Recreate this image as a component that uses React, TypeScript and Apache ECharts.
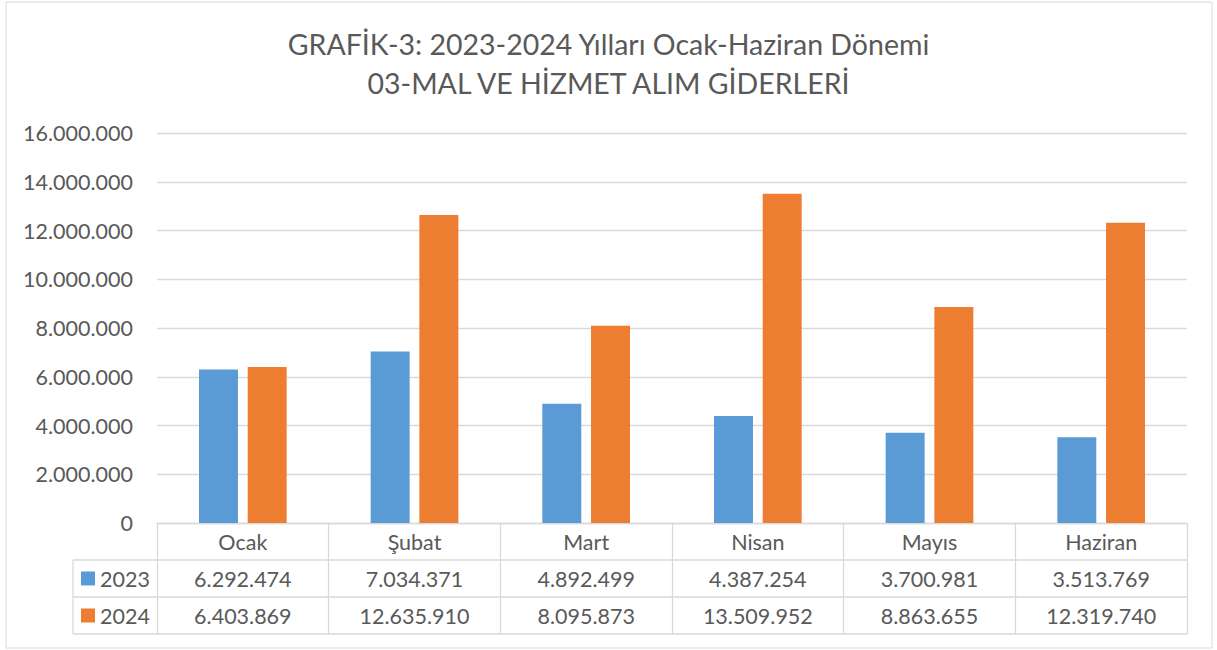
import React, { useEffect, useRef } from "react";
import * as echarts from "echarts";

const categories = ["Ocak", "Şubat", "Mart", "Nisan", "Mayıs", "Haziran"];
const seriesNames = ["2023", "2024"];
const values2023 = [6292474, 7034371, 4892499, 4387254, 3700981, 3513769];
const values2024 = [6403869, 12635910, 8095873, 13509952, 8863655, 12319740];
const colors = ["#5B9BD5", "#ED7D31"];
const titleLines = ["GRAFİK-3: 2023-2024 Yılları Ocak-Haziran Dönemi", "03-MAL VE HİZMET ALIM GİDERLERİ"];

const fmt = (v: number) => String(Math.round(v)).replace(/\B(?=(\d{3})+(?!\d))/g, ".");

const FONT = "Lato";
const TXT = "#595959";
const LINE = "#D9D9D9";
const FS = 21.5;

export default function App() {
  const ref = useRef<HTMLDivElement>(null);
  useEffect(() => {
    const chart = echarts.init(ref.current!, null, { renderer: "svg" });
    const gridLeft = 157, gridRight = 1187, gridTop = 133, gridBottom = 523;
    const catW = (gridRight - gridLeft) / categories.length;
    const rowH = 37;
    const tableLeft = 73;
    const rows = [values2023, values2024];
    const graphic: any[] = [];
    graphic.push({ type: "rect", shape: { x: 6, y: 2, width: 1206, height: 646 }, style: { fill: "none", stroke: LINE, lineWidth: 1 }, silent: true });
    for (let r = 1; r <= 3; r++) {
      const y = gridBottom + r * rowH;
      graphic.push({ type: "line", shape: { x1: tableLeft, y1: y, x2: gridRight, y2: y }, style: { stroke: LINE, lineWidth: 1.3 }, silent: true });
    }
    graphic.push({ type: "line", shape: { x1: tableLeft, y1: gridBottom + rowH, x2: tableLeft, y2: gridBottom + 3 * rowH }, style: { stroke: LINE, lineWidth: 1.3 }, silent: true });
    rows.forEach((vals, r) => {
      const cy = gridBottom + (r + 1.5) * rowH;
      graphic.push({ type: "rect", shape: { x: 81, y: cy - 7, width: 14, height: 14 }, style: { fill: colors[r] }, silent: true });
      graphic.push({ type: "text", x: 100, y: cy, style: { text: seriesNames[r], fill: TXT, font: `${FS}px ${FONT}`, textAlign: "left", textVerticalAlign: "middle" }, silent: true });
      vals.forEach((v, i) => {
        graphic.push({ type: "text", x: gridLeft + (i + 0.5) * catW, y: cy, style: { text: fmt(v), fill: TXT, font: `${FS}px ${FONT}`, textAlign: "center", textVerticalAlign: "middle" }, silent: true });
      });
    });
    chart.setOption({
      animation: false,
      textStyle: { fontFamily: FONT },
      title: {
        text: titleLines.join("\n"),
        left: "center",
        top: 19,
        textStyle: { fontFamily: FONT, fontSize: 28.5, fontWeight: "normal", color: TXT, lineHeight: 39 },
      },
      grid: { left: gridLeft, right: 1217 - gridRight, top: gridTop, bottom: 650 - gridBottom, containLabel: false },
      xAxis: {
        type: "category",
        data: categories,
        axisLine: { lineStyle: { color: LINE, width: 1.3 } },
        axisTick: { show: true, length: 3 * rowH, interval: 0, lineStyle: { color: LINE, width: 1.3 } },
        axisLabel: { color: TXT, fontSize: FS, fontFamily: FONT, margin: 8, interval: 0 },
      },
      yAxis: {
        type: "value",
        min: 0,
        max: 16000000,
        interval: 2000000,
        axisLine: { show: false },
        axisTick: { show: false },
        splitLine: { lineStyle: { color: LINE, width: 1.3 } },
        axisLabel: { color: TXT, fontSize: FS, fontFamily: FONT, margin: 24, formatter: (v: number) => fmt(v) },
      },
      series: [
        { name: seriesNames[0], type: "bar", data: values2023, itemStyle: { color: colors[0] }, barWidth: "22.7%", barGap: "25%" },
        { name: seriesNames[1], type: "bar", data: values2024, itemStyle: { color: colors[1] }, barWidth: "22.7%", barGap: "25%" },
      ],
      graphic,
    });
    return () => chart.dispose();
  }, []);
  return <div ref={ref} style={{ position: "fixed", left: 0, top: 0, width: 1217, height: 650, background: "#fff" }} />;
}
